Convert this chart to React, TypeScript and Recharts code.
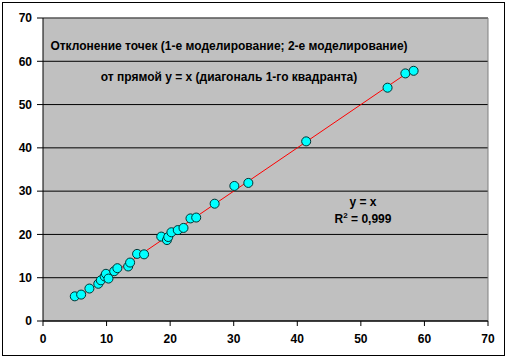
import React from "react";
import { ScatterChart, Scatter, XAxis, YAxis, ZAxis, CartesianGrid, ReferenceLine } from "recharts";

const pointsX = [5.0, 6.0, 7.3, 8.7, 9.1, 9.7, 9.9, 10.3, 11.2, 11.7, 13.4, 13.7, 14.8, 15.9, 18.6, 19.5, 19.7, 20.2, 21.2, 22.1, 23.2, 24.1, 27.0, 30.1, 32.3, 41.4, 54.2, 57.0, 58.3];
const pointsY = [5.7, 6.1, 7.5, 8.6, 9.4, 10.3, 10.9, 9.8, 11.5, 12.2, 12.6, 13.5, 15.5, 15.4, 19.5, 18.7, 19.4, 20.5, 21.0, 21.5, 23.7, 23.9, 27.1, 31.2, 31.9, 41.5, 53.9, 57.2, 57.8];
const trendX = [5.0, 58.3];
const trendY = [5.0, 58.3];
const ticks = [0, 10, 20, 30, 40, 50, 60, 70];
const titleLine1 = "Отклонение точек (1-е моделирование; 2-е моделирование)";
const titleLine2 = "от прямой y = x (диагональ 1-го квадранта)";
const eqLine = "y = x";

const points = pointsX.map((x, i) => ({ x, y: pointsY[i] }));
const trend = trendX.map((x, i) => ({ x, y: trendY[i] }));

const font = "'Liberation Sans', Arial, sans-serif";
const tickStyle = { fill: "#000", fontSize: 12, fontWeight: 700, fontFamily: font };

const label = (top: number, left: number, text: React.ReactNode) => (
  <div
    style={{
      position: "absolute",
      top,
      left,
      transform: "translate(-50%, -50%)",
      whiteSpace: "nowrap",
      fontFamily: font,
      fontWeight: 700,
      fontSize: 12,
      color: "#000",
    }}
  >
    {text}
  </div>
);

export default function App() {
  return (
    <div style={{ position: "absolute", top: 0, left: 0, width: 508, height: 358, background: "#fff" }}>
      <div style={{ position: "absolute", left: 2, top: 2, width: 501, height: 352, border: "1px solid #000" }} />
      <ScatterChart width={508} height={358} margin={{ top: 18, right: 20, left: 0, bottom: 7 }}>
        <CartesianGrid fill="#C0C0C0" stroke="#000" vertical={false} strokeOpacity={1} />
        <XAxis
          type="number"
          dataKey="x"
          domain={[0, 70]}
          ticks={ticks}
          height={30}
          tickSize={5}
          tickMargin={8}
          stroke="#000"
          tick={tickStyle}
          interval={0}
        />
        <YAxis
          type="number"
          dataKey="y"
          domain={[0, 70]}
          ticks={ticks}
          width={43}
          tickSize={6}
          tickMargin={5}
          stroke="#000"
          tick={tickStyle}
          interval={0}
        />
        <ZAxis range={[40, 40]} />
        <ReferenceLine y={70} stroke="#808080" />
        <ReferenceLine x={70} stroke="#808080" />
        <Scatter data={trend} line={{ stroke: "#FF0000", strokeWidth: 1 }} shape={() => null} isAnimationActive={false} />
        <Scatter data={points} fill="#00FFFF" stroke="#003333" strokeWidth={1} shape="circle" isAnimationActive={false} />
      </ScatterChart>
      {label(46, 229, titleLine1)}
      {label(77, 229, titleLine2)}
      {label(202, 363, eqLine)}
      {label(219, 363, <span>R<sup style={{ fontSize: 8, verticalAlign: "5px", lineHeight: 0 }}>2</sup> = 0,999</span>)}
    </div>
  );
}
